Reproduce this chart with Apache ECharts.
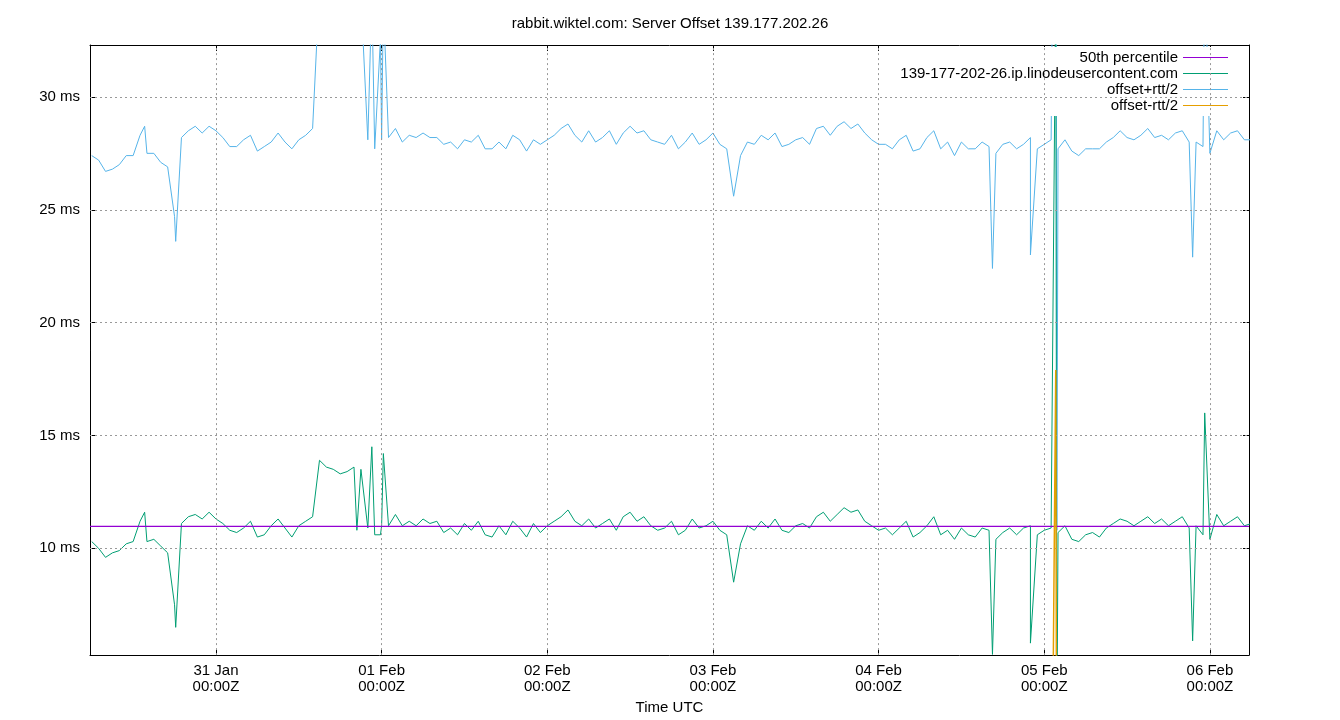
<!DOCTYPE html>
<html><head><meta charset="utf-8">
<script src="https://cdn.jsdelivr.net/npm/echarts@6/dist/echarts.min.js"></script>
<style>html,body{margin:0;background:#fff}#c{width:1340px;height:720px}</style>
</head><body><div id="c"></div>
<script>
// hourly samples starting 30 Jan 06:00 UTC
const startHour = "2024-01-30T06:00:00Z";
const offsetMs = [
10.3,10.0,9.6,9.8,9.9,10.2,10.3,11.2,10.3,10.4,10.1,9.8,7.5,11.1,11.4,11.5,11.3,11.6,
11.3,11.1,10.8,10.7,10.9,11.2,10.5,10.6,11.0,11.3,10.9,10.5,11.0,11.2,11.4,13.9,13.6,13.5,13.3,13.4,13.6,13.5,10.9,10.6,11.0,11.0,
11.5,11.0,11.2,11.0,11.3,11.1,11.2,10.7,10.9,10.6,11.1,10.8,11.2,10.6,10.5,11.0,10.6,11.2,10.9,10.5,11.1,10.7,11.0,11.2,
11.4,11.7,11.2,11.0,11.3,10.9,11.1,11.3,10.8,11.4,11.6,11.2,11.4,11.0,10.8,10.9,11.2,10.6,10.8,11.3,10.9,11.0,11.2,10.8,
10.6,8.5,10.2,11.0,10.8,11.2,10.9,11.3,10.8,10.7,11.0,11.1,10.9,11.4,11.6,11.2,11.5,11.8,11.6,11.7,11.2,11.0,10.8,10.9,
10.6,10.9,11.2,10.5,10.7,11.0,11.4,10.6,10.8,10.4,10.9,10.6,10.5,10.9,10.8,10.4,10.7,10.9,10.6,10.9,11.0,10.6,10.8,10.9,
10.7,11.0,10.4,10.3,10.6,10.7,10.5,10.9,11.1,11.3,11.2,11.0,11.2,11.4,11.1,11.3,11.0,11.2,11.4,10.9,11.0,10.6,10.4,11.5,
11.0,11.2,11.4,11.0,11.1,10.9
];
const halfRttMs = [
17.1,17.2,17.1,17.0,17.1,17.2,17.1,17.1,17.2,17.1,17.0,17.1,17.2,17.1,17.1,17.2,17.1,17.1,
17.2,17.1,17.0,17.1,17.2,17.1,17.1,17.2,17.0,17.1,17.1,17.2,17.1,17.1,17.2,21.0,21.0,21.0,21.0,21.0,21.0,21.0,17.2,17.1,17.1,17.2,
17.1,17.0,17.1,17.2,17.1,17.1,17.0,17.2,17.1,17.1,17.0,17.2,17.1,17.1,17.2,17.0,17.1,17.1,17.2,17.1,17.0,17.2,17.1,17.1,
17.2,17.1,17.1,17.0,17.2,17.1,17.1,17.2,17.1,17.0,17.1,17.2,17.1,17.1,17.2,17.0,17.1,17.1,17.2,17.1,17.0,17.1,17.2,17.1,
17.1,17.1,17.2,17.0,17.1,17.1,17.2,17.1,17.0,17.2,17.1,17.1,17.0,17.2,17.1,17.1,17.2,17.1,17.0,17.1,17.2,17.1,17.1,17.0,
17.1,17.2,17.1,17.1,17.0,17.2,17.1,17.1,17.2,17.0,17.1,17.1,17.2,17.1,17.0,17.1,17.2,17.1,17.1,17.0,17.2,17.1,17.1,17.2,
17.0,17.1,17.2,17.1,17.1,17.0,17.2,17.1,17.1,17.2,17.0,17.1,17.1,17.2,17.1,17.0,17.1,17.2,17.1,17.1,17.0,17.2,17.1,17.0,
17.1,17.2,17.1,17.1,17.0,17.1
];
// short spikes between hourly samples
const spikeTimes = ["2024-01-30T13:40:00Z","2024-01-30T18:10:00Z","2024-01-31T20:25:00Z","2024-01-31T22:35:00Z","2024-01-31T23:50:00Z","2024-02-01T00:15:00Z","2024-02-04T16:30:00Z","2024-02-04T22:00:00Z","2024-02-05T01:40:00Z","2024-02-05T01:50:00Z","2024-02-05T21:30:00Z","2024-02-05T23:15:00Z"];
const spikeOffset = [11.6,6.5,10.8,14.5,10.6,14.2,5.3,5.8,35.0,2.0,5.9,16.0];
const spikeHalfRtt = [17.1,17.1,22.0,20.0,22.0,20.0,17.1,17.2,17.1,8.8,17.0,20.0];
const median = 10.97;
const yTicks = [10,15,20,25,30];
const names = ["50th percentile","139-177-202-26.ip.linodeusercontent.com","offset+rtt/2","offset-rtt/2"];

const H = 3600000, D = 24*H, t0 = Date.parse(startHour);
let pts = offsetMs.map((v,i)=>[t0+i*H, v, halfRttMs[i]]);
spikeTimes.forEach((t,i)=>pts.push([Date.parse(t), spikeOffset[i], spikeHalfRtt[i]]));
pts.sort((a,b)=>a[0]-b[0]);
const xMin = Date.parse("2024-01-30T05:45:00Z"), xMax = Date.parse("2024-02-06T05:40:00Z");
const F = "Liberation Sans, Arial, sans-serif";
const mon = ["Jan","Feb","Mar","Apr","May","Jun","Jul","Aug","Sep","Oct","Nov","Dec"];
const dayTicks = []; for (let d=Date.parse("2024-01-31T00:00:00Z"); d<=xMax; d+=D) dayTicks.push(d);
const isMid = v => (v % D) === 0;

const chart = echarts.init(document.getElementById('c'));
chart.setOption({
  useUTC: true, animation: false,
  title: {text: "rabbit.wiktel.com: Server Offset 139.177.202.26", left: 'center', top: 11,
    textStyle: {fontFamily: F, fontSize: 15, fontWeight: 'normal', color: '#000'}},
  grid: {left: 90, right: 91, top: 45, bottom: 64},
  legend: {orient: 'vertical', right: 108, top: 47, itemGap: 1, itemWidth: 45, itemHeight: 14,
    align: 'right', backgroundColor: '#fff', padding: [3,4,3,4],
    icon: 'path://M0,7L45,7L45,8L0,8Z',
    textStyle: {fontFamily: F, fontSize: 15, color: '#000', width: 345, align: 'right'},
    data: names},
  xAxis: [{type: 'time', min: xMin, max: xMax, minInterval: D, maxInterval: D,
    name: 'Time UTC', nameLocation: 'middle', nameGap: 43, nameTextStyle: {fontFamily: F, fontSize: 15, color: '#000'},
    axisLine: {lineStyle: {color: '#000'}},
    axisTick: {inside: true, length: 6, lineStyle: {color: '#000'}},
    axisLabel: {fontFamily: F, fontSize: 15, color: '#000', lineHeight: 16, hideOverlap: false,
      formatter: v => { if (!isMid(v)) return ''; const d = new Date(v); return String(d.getUTCDate()).padStart(2,'0') + ' ' + mon[d.getUTCMonth()] + '\n00:00Z'; }},
    splitLine: {show: false}},
   {type: 'time', position: 'top', min: xMin, max: xMax, minInterval: D, maxInterval: D,
    axisLine: {lineStyle: {color: '#000'}}, axisLabel: {show: false},
    axisTick: {inside: true, length: 6, lineStyle: {color: '#000'}}, splitLine: {show: false}}],
  yAxis: [{type: 'value', min: 5.27, max: 32.3,
    axisLine: {show: true, lineStyle: {color: '#000'}},
    axisTick: {show: true, inside: true, length: 6, customValues: yTicks, lineStyle: {color: '#000'}},
    axisLabel: {customValues: yTicks, formatter: v => v + ' ms', fontFamily: F, fontSize: 15, color: '#000', margin: 10},
    splitLine: {show: false}},
   {type: 'value', position: 'right', min: 5.27, max: 32.3,
    axisLine: {show: true, lineStyle: {color: '#000'}}, axisLabel: {show: false},
    axisTick: {show: true, inside: true, length: 6, customValues: yTicks, lineStyle: {color: '#000'}}, splitLine: {show: false}}],
  series: [
    {name: names[0], type: 'line', color: '#9400d3', symbol: 'none', lineStyle: {width: 1.2}, z: 4,
     data: [[xMin, median],[xMax, median]],
     markLine: {silent: true, symbol: 'none', label: {show: false},
       lineStyle: {color: '#999', type: [2,3], width: 1},
       data: yTicks.map(v=>({yAxis: v})).concat(dayTicks.map(v=>({xAxis: v})))}},
    {name: names[1], type: 'line', color: '#009e73', symbol: 'none', lineStyle: {width: 1}, z: 3,
     data: pts.map(p=>[p[0], p[1]])},
    {name: names[2], type: 'line', color: '#56b4e9', symbol: 'none', lineStyle: {width: 1}, z: 2,
     data: pts.map(p=>[p[0], +(p[1]+p[2]).toFixed(2)])},
    {name: names[3], type: 'line', color: '#e69f00', symbol: 'none', lineStyle: {width: 1.5}, z: 5,
     data: pts.map(p=>[p[0], +(p[1]-p[2]).toFixed(2)])}
  ]
});
</script></body></html>
